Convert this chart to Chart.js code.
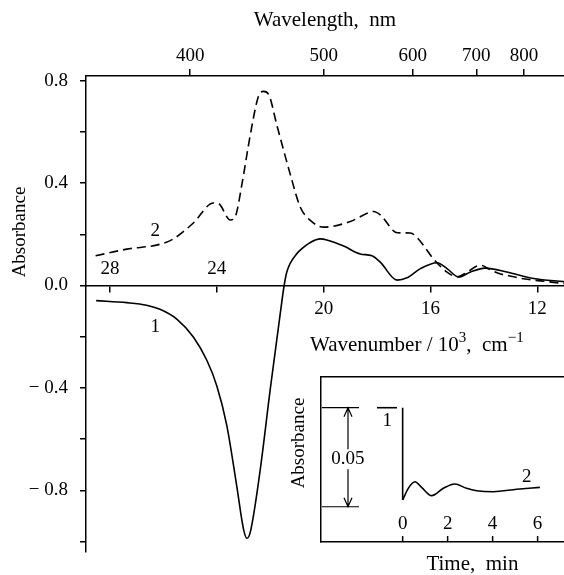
<!DOCTYPE html>
<html><head><meta charset="utf-8">
<script src="https://cdn.jsdelivr.net/npm/chart.js@4.4.1/dist/chart.umd.min.js"></script>
<style>
html,body{margin:0;padding:0;background:#fff;overflow:hidden}
#wrap{position:relative;width:564px;height:575px;overflow:hidden;background:#fff}
#main{position:absolute;left:0;top:0}
#inset{position:absolute;left:285px;top:370px}
</style></head>
<body><div id="wrap"><canvas id="main" width="564" height="575"></canvas><canvas id="inset" width="285" height="205"></canvas></div>
<script>
// ---- main spectra: wavenumber (10^3 cm^-1) and absorbance ----
const WN2  = [28.54,27.37,26.13,25.63,24.88,24.13,23.94,23.5,23.31,23.06,22.75,22.44,22.25,22.06,21.75,21.25,20.88,20.5,20.0,19.0,18.37,18.13,17.88,17.25,16.75,16.5,15.88,15.38,15.0,14.63,14.26,14.07,13.88,13.38,13.14,12.63,12.14,11.88,11.0];
const ABS2 = [0.116,0.142,0.161,0.182,0.244,0.322,0.320,0.256,0.269,0.396,0.587,0.739,0.758,0.746,0.625,0.434,0.307,0.254,0.228,0.250,0.282,0.289,0.276,0.206,0.205,0.187,0.103,0.052,0.034,0.052,0.076,0.078,0.068,0.045,0.040,0.028,0.021,0.018,0.008];
const WN1  = [28.52,27.37,26.63,26.13,25.5,24.88,24.38,24.0,23.63,23.25,23.0,22.87,22.75,22.38,22.0,21.63,21.48,21.38,21.0,20.88,20.5,20.13,19.88,19.25,18.63,18.19,17.88,17.25,16.88,16.38,15.75,15.38,14.94,14.5,13.95,13.14,12.14,11.0];
const ABS1 = [-0.059,-0.067,-0.077,-0.093,-0.131,-0.201,-0.291,-0.392,-0.545,-0.786,-0.952,-0.987,-0.964,-0.723,-0.405,-0.113,0,0.053,0.125,0.138,0.168,0.182,0.178,0.154,0.123,0.116,0.091,0.021,0.030,0.066,0.089,0.066,0.033,0.053,0.068,0.053,0.027,0.015];
const WN_TICKS  = [28,24,20,16,12];
const NM_TICKS  = [400,500,600,700,800];
const ABS_TICKS = [-1.0,-0.8,-0.6,-0.4,-0.2,0,0.2,0.4,0.6,0.8];
const ABS_LABELED = [0.8,0.4,0,-0.4,-0.8];
// ---- inset kinetics: time (min) and absorbance ----
const T1 = [-1.14,-0.25];
const K1 = [0.05,0.05];
const T_DROP = [0,0];
const K_DROP = [0.05,0.0034];
const T2 = [0,0.25,0.55,0.84,1.29,1.81,2.32,2.84,3.29,4.03,5.07,6.1];
const K2 = [0.0034,0.0093,0.0126,0.0098,0.0056,0.0093,0.0115,0.0093,0.0081,0.0076,0.0088,0.0098];
const T_TICKS = [0,2,4,6];
const SCALE_BAR = [0,0.05];

const FONT = '"Liberation Serif","Times New Roman",serif';
Chart.defaults.font.family = FONT;
Chart.defaults.color = '#000';

const pts = (xs, ys) => xs.map((x,i)=>({x, y: ys[i]}));
const near = (a,b)=>Math.abs(a-b)<1e-6;
const fmtAbs = v => near(v,0) ? '0.0' : (v>0 ? v.toFixed(1) : '\u2212 ' + Math.abs(v).toFixed(1));

function richText(ctx, parts, x, y, size, supSize, rise){
  let cx = x;
  for (const [t, sup] of parts){
    ctx.font = (sup?supSize:size)+'px '+FONT;
    ctx.fillText(t, cx, sup ? y-rise : y);
    cx += ctx.measureText(t).width;
  }
}

const mainText = {
  id:'mainText',
  afterDraw(c){
    const {ctx, scales:{x,y}} = c;
    ctx.save();
    ctx.fillStyle = '#000';
    ctx.textAlign = 'center'; ctx.textBaseline = 'middle';
    ctx.font = '19px '+FONT;
    const y0 = y.getPixelForValue(0);
    for (const v of WN_TICKS.filter(v=>v>20)) ctx.fillText(String(v), x.getPixelForValue(v), y0-16);
    ctx.fillText('2', x.getPixelForValue(26.31), y.getPixelForValue(0.212));
    ctx.fillText('1', x.getPixelForValue(26.31), y.getPixelForValue(-0.163));
    ctx.save(); ctx.translate(20, 232); ctx.rotate(-Math.PI/2); ctx.fillText('Absorbance',0,0); ctx.restore();
    ctx.textAlign = 'left'; ctx.textBaseline = 'alphabetic';
    richText(ctx, [['Wavenumber / 10',0],['3',1],[',  cm',0],['\u22121',1]], 310, 351, 21, 15, 9);
    ctx.restore();
  }
};

const gridAx = (len)=>({drawOnChartArea:false, drawTicks:true, tickLength:len, color:'#000', lineWidth:1.5});
const borderAx = {display:true, color:'#000', width:1.5};

new Chart(document.getElementById('main'), {
  type:'line',
  data:{datasets:[
    {data:pts(WN2,ABS2), xAxisID:'x', yAxisID:'y', borderColor:'#000', borderWidth:1.6, borderDash:[9,5], pointRadius:0, cubicInterpolationMode:'monotone', fill:false},
    {data:pts(WN1,ABS1), xAxisID:'x', yAxisID:'y', borderColor:'#000', borderWidth:1.6, pointRadius:0, cubicInterpolationMode:'monotone', fill:false}
  ]},
  options:{
    responsive:false, animation:false, events:[],
    plugins:{legend:{display:false}, tooltip:{enabled:false}},
    layout:{padding:{left:0,right:0,top:0,bottom:12}},
    scales:{
      x:{type:'linear', reverse:true, min:11, max:28.9, position:{y:0},
         afterBuildTicks:s=>{s.ticks = WN_TICKS.map(v=>({value:v}));},
         ticks:{callback:v=> v<=20 ? String(v) : '', font:{size:19}, padding:6, maxRotation:0, autoSkip:false},
         grid:gridAx(6), border:borderAx},
      x2:{type:'linear', reverse:true, min:11, max:28.9, position:'top',
         afterBuildTicks:s=>{s.ticks = NM_TICKS.map(n=>({value:1e4/n}));},
         ticks:{callback:v=>String(Math.round(1e4/v)), font:{size:19}, padding:2, maxRotation:0, autoSkip:false},
         grid:gridAx(7), border:borderAx,
         title:{display:true, text:'Wavelength,  nm', font:{size:21}, padding:{top:8,bottom:0}},
         afterFit:s=>{s.height = 76;}},
      y:{type:'linear', min:-1.039, max:0.818, position:'left',
         afterBuildTicks:s=>{s.ticks = ABS_TICKS.map(v=>({value:v}));},
         ticks:{callback:v=> ABS_LABELED.some(a=>near(a,v)) ? fmtAbs(v) : '', font:{size:19}, padding:12, autoSkip:false},
         grid:gridAx(6), border:borderAx,
         afterFit:s=>{s.width = 86;}}
    }
  },
  plugins:[mainText]
});

const insetText = {
  id:'insetText',
  afterDraw(c){
    const {ctx, chartArea:ca, scales:{x,y}} = c;
    ctx.save();
    ctx.strokeStyle = '#000'; ctx.fillStyle = '#000'; ctx.lineWidth = 1.5;
    // inner ticks on time axis
    ctx.textAlign = 'center'; ctx.textBaseline = 'middle'; ctx.font = '19px '+FONT;
    for (const t of T_TICKS){
      const px = x.getPixelForValue(t);
      ctx.beginPath(); ctx.moveTo(px, ca.bottom); ctx.lineTo(px, ca.bottom-6); ctx.stroke();
      ctx.fillText(String(t), px, ca.bottom-18);
    }
    ctx.font = '21px '+FONT;
    ctx.fillText('Time,  min', x.getPixelForValue(3.1), 194);
    ctx.save(); ctx.translate(14, 73); ctx.rotate(-Math.PI/2); ctx.font='19px '+FONT; ctx.fillText('Absorbance',0,0); ctx.restore();
    // scale bar
    const xa = x.getPixelForValue(-3.59), xb = x.getPixelForValue(-1.94), xm = x.getPixelForValue(-2.43);
    const yt = y.getPixelForValue(SCALE_BAR[1]), yb = y.getPixelForValue(SCALE_BAR[0]);
    ctx.lineWidth = 1.2;
    ctx.beginPath();
    ctx.moveTo(xa,yt); ctx.lineTo(xb,yt); ctx.moveTo(xa,yb); ctx.lineTo(xb,yb);
    ctx.moveTo(xm,yt); ctx.lineTo(xm,yb);
    ctx.moveTo(xm-4,yt+9); ctx.lineTo(xm,yt); ctx.lineTo(xm+4,yt+9);
    ctx.moveTo(xm-4,yb-9); ctx.lineTo(xm,yb); ctx.lineTo(xm+4,yb-9);
    ctx.stroke();
    const ly = y.getPixelForValue(0.024);
    ctx.font = '19px '+FONT;
    const w = ctx.measureText('0.05').width;
    ctx.fillStyle = '#fff'; ctx.fillRect(xm-w/2-1, ly-10, w+2, 20);
    ctx.fillStyle = '#000'; ctx.fillText('0.05', xm, ly);
    ctx.fillText('1', x.getPixelForValue(-0.68), y.getPixelForValue(0.0431));
    ctx.fillText('2', x.getPixelForValue(5.52), y.getPixelForValue(0.015));
    ctx.restore();
  }
};

const plainAx = {drawOnChartArea:false, drawTicks:false, color:'#000', lineWidth:1.5};
new Chart(document.getElementById('inset'), {
  type:'line',
  data:{datasets:[
    {data:pts(T1,K1), borderColor:'#000', borderWidth:1.6, pointRadius:0, tension:0},
    {data:pts(T_DROP,K_DROP), borderColor:'#000', borderWidth:1.6, pointRadius:0, tension:0},
    {data:pts(T2,K2), borderColor:'#000', borderWidth:1.6, pointRadius:0, cubicInterpolationMode:'monotone'}
  ]},
  options:{
    responsive:false, animation:false, events:[],
    plugins:{legend:{display:false}, tooltip:{enabled:false}},
    layout:{padding:0},
    scales:{
      x:{type:'linear', min:-3.63, max:7.44, position:'bottom', ticks:{display:false}, grid:plainAx, border:borderAx, afterFit:s=>{s.height=33;}},
      xt:{type:'linear', min:-3.63, max:7.44, position:'top', ticks:{display:false}, grid:plainAx, border:borderAx, afterFit:s=>{s.height=7;}},
      y:{type:'linear', min:-0.0178, max:0.0655, position:'left', ticks:{display:false}, grid:plainAx, border:borderAx, afterFit:s=>{s.width=36;}}
    }
  },
  plugins:[insetText]
});
</script>
</body></html>
